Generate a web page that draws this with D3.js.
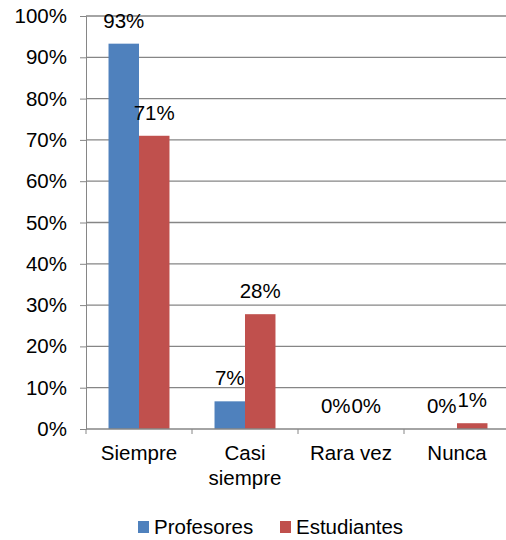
<!DOCTYPE html>
<html>
<head>
<meta charset="utf-8">
<script src="https://cdn.jsdelivr.net/npm/d3@7"></script>
<style>
  body { margin: 0; background: #fff; }
  text { font-family: "Liberation Sans", Arial, sans-serif; fill: #000; }
</style>
</head>
<body>
<div id="chart"></div>
<script>
// Chart data
const categories = ['Siempre', 'Casi siempre', 'Rara vez', 'Nunca']
const seriesNames = ['Profesores', 'Estudiantes']
const profesores = [93.3, 6.7, 0, 0]
const estudiantes = [71, 27.8, 0, 1.4]
const profesoresLabels = ['93%', '7%', '0%', '0%']
const estudiantesLabels = ['71%', '28%', '0%', '1%']
const yTicks = [0, 10, 20, 30, 40, 50, 60, 70, 80, 90, 100]
const colors = ['#4F81BD', '#C0504D']

const width = 506,
  height = 540,
  plotLeft = 86,
  plotRight = 510,
  plotTop = 16,
  plotBottom = 429,
  fontSize = '20.5px'

let svg = d3.select('#chart')
  .append('svg')
  .attr('width', width)
  .attr('height', height)

let x = d3.scaleBand()
  .domain(categories)
  .range([plotLeft, plotRight])
  .paddingInner(0)
  .paddingOuter(0)

let groupWidth = x.bandwidth() * 0.575
let x1 = d3.scaleBand()
  .domain(seriesNames)
  .range([0, groupWidth])

let y = d3.scaleLinear()
  .domain([0, 100])
  .range([plotBottom, plotTop])

// gridlines + y axis
let yAxis = svg.append('g')
  .attr('transform', `translate(${plotLeft},0)`)
  .call(d3.axisLeft(y).tickValues(yTicks).tickFormat(d => d + '%').tickSize(6).tickPadding(13))
yAxis.select('.domain').attr('stroke', '#868686')
yAxis.selectAll('.tick line').attr('stroke', '#868686')
yAxis.selectAll('.tick text')
  .style('font-size', fontSize)
  .style('font-family', '"Liberation Sans", Arial, sans-serif')
  .attr('fill', '#000')

svg.append('g')
  .selectAll('line')
  .data(yTicks.filter(d => d > 0))
  .enter()
  .append('line')
  .attr('x1', plotLeft)
  .attr('x2', plotRight)
  .attr('y1', d => y(d))
  .attr('y2', d => y(d))
  .attr('stroke', '#868686')
  .attr('stroke-width', 1.3)

// bars
let data = categories.map((c, i) => ({
  cat: c,
  vals: [
    { s: seriesNames[0], v: profesores[i], l: profesoresLabels[i] },
    { s: seriesNames[1], v: estudiantes[i], l: estudiantesLabels[i] }
  ]
}))

let groups = svg.selectAll('.grp')
  .data(data)
  .enter()
  .append('g')
  .attr('class', 'grp')
  .attr('transform', d => `translate(${x(d.cat) + (x.bandwidth() - groupWidth) / 2},0)`)

groups.selectAll('rect')
  .data(d => d.vals)
  .enter()
  .append('rect')
  .attr('x', d => x1(d.s))
  .attr('y', d => y(d.v))
  .attr('width', x1.bandwidth())
  .attr('height', d => plotBottom - y(d.v))
  .attr('fill', (d, i) => colors[i])

groups.selectAll('text')
  .data(d => d.vals)
  .enter()
  .append('text')
  .attr('x', d => x1(d.s) + x1.bandwidth() / 2)
  .attr('y', d => y(d.v) - 16)
  .attr('text-anchor', 'middle')
  .style('font-size', fontSize)
  .text(d => d.l)

// x axis
let xAxis = svg.append('g')
  .attr('transform', `translate(0,${plotBottom})`)
xAxis.append('line')
  .attr('x1', plotLeft)
  .attr('x2', plotRight)
  .attr('stroke', '#868686')
  .attr('stroke-width', 1.3)
xAxis.selectAll('.xt')
  .data(categories.concat(['end']))
  .enter()
  .append('line')
  .attr('x1', (d, i) => plotLeft + i * x.bandwidth())
  .attr('x2', (d, i) => plotLeft + i * x.bandwidth())
  .attr('y1', 0)
  .attr('y2', 5)
  .attr('stroke', '#868686')

xAxis.selectAll('.xl')
  .data(categories)
  .enter()
  .append('text')
  .attr('text-anchor', 'middle')
  .attr('x', d => x(d) + x.bandwidth() / 2)
  .attr('y', 31)
  .style('font-size', fontSize)
  .each(function (d) {
    let words = d === 'Casi siempre' ? ['Casi', 'siempre'] : [d]
    d3.select(this).selectAll('tspan')
      .data(words)
      .enter()
      .append('tspan')
      .attr('x', x(d) + x.bandwidth() / 2)
      .attr('dy', (w, i) => i === 0 ? 0 : 25)
      .text(w => w)
  })

// legend
let legendX = [138, 280]
let legend = svg.selectAll('.leg')
  .data(seriesNames)
  .enter()
  .append('g')
  .attr('transform', (d, i) => `translate(${legendX[i]},521)`)
legend.append('rect')
  .attr('width', 11)
  .attr('height', 12)
  .attr('fill', (d, i) => colors[i])
legend.append('text')
  .attr('x', 16)
  .attr('y', 13)
  .style('font-size', fontSize)
  .text(d => d)
</script>
</body>
</html>
